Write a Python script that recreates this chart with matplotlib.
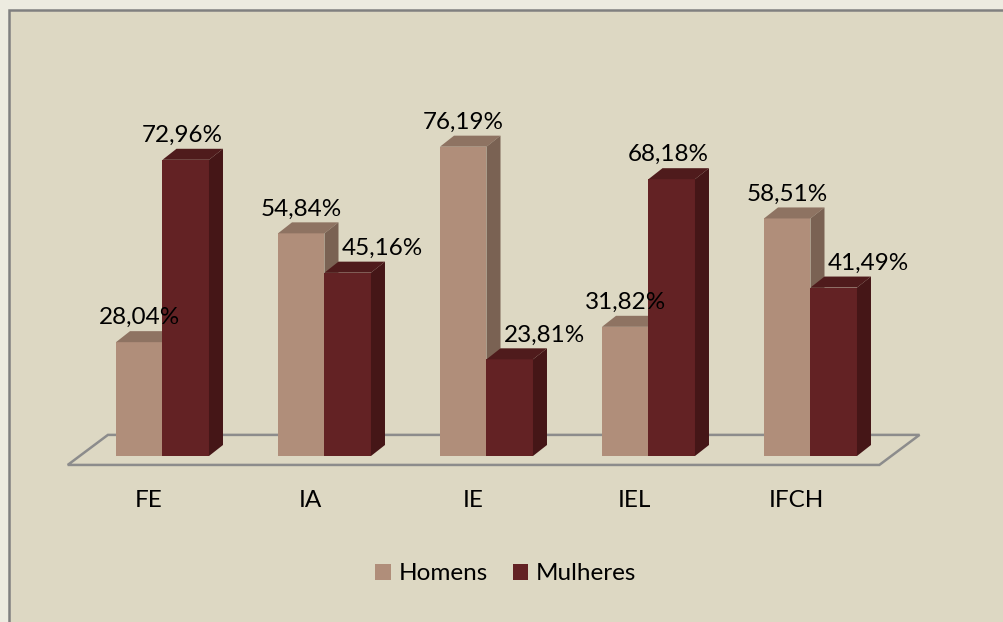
import matplotlib
matplotlib.use('Agg')
import matplotlib.pyplot as plt
from matplotlib.patches import Polygon, Rectangle, Patch

plt.rcParams['font.family'] = ['Lato', 'DejaVu Sans']

# Data
categories = ['FE', 'IA', 'IE', 'IEL', 'IFCH']
homens = [28.04, 54.84, 76.19, 31.82, 58.51]
mulheres = [72.96, 45.16, 23.81, 68.18, 41.49]
series_names = ['Homens', 'Mulheres']

# Colours: (front, top, side)
col_h = ('#B08E7A', '#8E7362', '#7A6253')
col_m = ('#632224', '#4F1B1C', '#451617')
bg_outer = '#EDEBE0'
bg_inner = '#DDD8C3'

W, H = 1004, 622
fs = 17.5
fig = plt.figure(figsize=(W / 100, H / 100), dpi=100)
fig.patch.set_facecolor(bg_outer)

ax = fig.add_axes([0, 0, 1, 1])
ax.set_facecolor('none')
ax.axis('off')
# 1 x unit = one category (162 px), 1 y unit = 1 % (4.06 px)
ax.set_xlim(-162.5 / 162, -162.5 / 162 + W / 162)
ax.set_ylim(-(H - 456) / 4.06, 456 / 4.06)

# chart frame (extends past right/bottom edge)
ax.add_patch(Rectangle((9 / W, -0.05), 1.1, 1 - 10 / H + 0.05,
                       transform=fig.transFigure, facecolor=bg_inner,
                       edgecolor='#808080', linewidth=1.8, zorder=0,
                       clip_on=False))

bw = 0.287          # bar width
dx, dy = 0.0864, 2.71  # depth offset of bars

# floor
f0, f1 = -0.585, 4.425
fy0, fy1 = -2.2, 5.2
fd = 0.248
ax.add_patch(Polygon([(f0, fy0), (f1, fy0), (f1 + fd, fy1), (f0 + fd, fy1)],
                     closed=True, facecolor=bg_inner, edgecolor='#8C8C8C',
                     linewidth=1.8, zorder=1))


def bar3d(x, h, cols):
    front, top, side = cols
    ax.add_patch(Polygon([(x, 0), (x + bw, 0), (x + bw, h), (x, h)],
                         facecolor=front, edgecolor='none', zorder=2))
    ax.add_patch(Polygon([(x, h), (x + bw, h), (x + bw + dx, h + dy), (x + dx, h + dy)],
                         facecolor=top, edgecolor='none', zorder=2))
    ax.add_patch(Polygon([(x + bw, 0), (x + bw + dx, dy), (x + bw + dx, h + dy), (x + bw, h)],
                         facecolor=side, edgecolor='none', zorder=2))


def fmt(v):
    return ('%.2f%%' % v).replace('.', ',')


for i, (vh, vm) in enumerate(zip(homens, mulheres)):
    bar3d(i - bw, vh, col_h)
    bar3d(i, vm, col_m)
    ax.text(i - bw / 2, vh + 4.4, fmt(vh), ha='center', va='baseline',
            fontsize=fs, color='black', zorder=5)
    if vm < vh:
        ax.text(i + dx + 0.02, vm + 4.4, fmt(vm), ha='left', va='baseline',
                fontsize=fs, color='black', zorder=5)
    else:
        ax.text(i + bw / 2 - 0.02, vm + 4.4, fmt(vm), ha='center', va='baseline',
                fontsize=fs, color='black', zorder=5)
    ax.text(i + f0 + 0.5, -12.6, categories[i], ha='center', va='baseline',
            fontsize=fs, color='black', zorder=5)

handles = [Patch(facecolor=col_h[0], edgecolor='none'),
           Patch(facecolor=col_m[0], edgecolor='none')]
ax.legend(handles, series_names, loc='center', bbox_to_anchor=(506 / W, 1 - 574 / H),
          bbox_transform=fig.transFigure, ncol=2, frameon=False, fontsize=fs,
          handlelength=0.62, handleheight=0.62, handletextpad=0.35,
          columnspacing=1.0, borderpad=0)

fig.savefig('out.png', dpi=100, facecolor=fig.get_facecolor())
